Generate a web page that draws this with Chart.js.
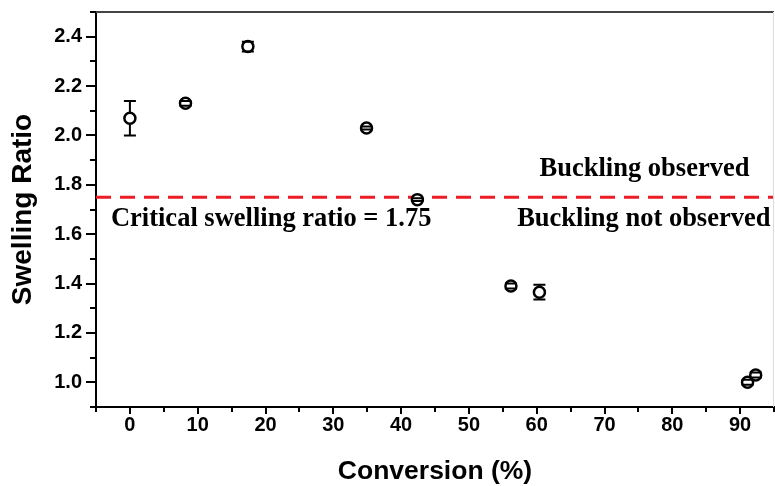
<!DOCTYPE html>
<html>
<head>
<meta charset="utf-8">
<script src="https://cdn.jsdelivr.net/npm/chart.js@4"></script>
<style>
  body { margin: 0; background: #fff; }
  #wrap { width: 775px; height: 486px; }
</style>
</head>
<body>
<div id="wrap"><canvas id="swellChart"></canvas></div>
<script>
// data
var conversion = [0, 8.2, 17.4, 34.9, 42.4, 56.2, 60.4, 91.1, 92.3];
var swellingRatio = [2.07, 2.13, 2.36, 2.03, 1.74, 1.39, 1.365, 1.00, 1.03];
var swellingError = [0.07, 0.01, 0.02, 0.006, 0.006, 0.01, 0.03, 0.01, 0.01];
var criticalRatio = 1.75;
var xTickLabels = ['0', '10', '20', '30', '40', '50', '60', '70', '80', '90'];
var yTickLabels = ['1.0', '1.2', '1.4', '1.6', '1.8', '2.0', '2.2', '2.4'];

var points = conversion.map(function (c, i) { return { x: c, y: swellingRatio[i] }; });

// error bars, drawn from the marker edge outward like Origin does
var errorBars = {
    id: 'errorBars',
    afterDatasetsDraw: function (chart) {
        var ctx = chart.ctx, xs = chart.scales.x, ys = chart.scales.y;
        var r = 6, cap = 6;
        ctx.save();
        ctx.strokeStyle = '#000';
        ctx.lineWidth = 2;
        for (var i = 0; i < conversion.length; i++) {
            var px = xs.getPixelForValue(conversion[i]);
            var py = ys.getPixelForValue(swellingRatio[i]);
            var top = ys.getPixelForValue(swellingRatio[i] + swellingError[i]);
            var bot = ys.getPixelForValue(swellingRatio[i] - swellingError[i]);
            ctx.beginPath();
            if (top < py - r) { ctx.moveTo(px, py - r); ctx.lineTo(px, top); }
            if (bot > py + r) { ctx.moveTo(px, py + r); ctx.lineTo(px, bot); }
            ctx.moveTo(px - cap, top); ctx.lineTo(px + cap, top);
            ctx.moveTo(px - cap, bot); ctx.lineTo(px + cap, bot);
            ctx.stroke();
        }
        ctx.restore();
    }
};

// outward ticks (major longer than minor) and the frame
var frameTicks = {
    id: 'frameTicks',
    afterDraw: function (chart) {
        var ctx = chart.ctx, a = chart.chartArea, xs = chart.scales.x, ys = chart.scales.y;
        ctx.save();
        ctx.strokeStyle = '#000';
        ctx.lineWidth = 2;
        ctx.beginPath();
        for (var v = -5; v <= 95; v += 5) {
            var px = Math.round(xs.getPixelForValue(v));
            ctx.moveTo(px, a.bottom);
            ctx.lineTo(px, a.bottom + (v % 10 === 0 ? 7 : 5));
        }
        for (var k = 9; k <= 25; k++) {
            var py = Math.round(ys.getPixelForValue(k / 10));
            ctx.moveTo(a.left, py);
            ctx.lineTo(a.left - (k % 2 === 0 ? 10 : 6), py);
        }
        ctx.stroke();
        ctx.strokeStyle = '#444';
        ctx.beginPath();
        ctx.moveTo(a.left, a.top);
        ctx.lineTo(a.right, a.top);
        ctx.stroke();
        ctx.strokeStyle = '#ddd';
        ctx.lineWidth = 1;
        ctx.beginPath();
        ctx.moveTo(a.right - 0.5, a.top);
        ctx.lineTo(a.right - 0.5, a.bottom);
        ctx.stroke();
        ctx.restore();
    }
};

var notes = [
    { text: 'Buckling observed', x: 75.9, y: 1.834, align: 'center' },
    { text: 'Critical swelling ratio = 1.75', x: -2.8, y: 1.632, align: 'left' },
    { text: 'Buckling not observed', x: 75.8, y: 1.632, align: 'center' }
];

var noteText = {
    id: 'noteText',
    afterDraw: function (chart) {
        var ctx = chart.ctx, xs = chart.scales.x, ys = chart.scales.y;
        ctx.save();
        ctx.fillStyle = '#000';
        ctx.font = "bold 26.5px 'Liberation Serif'";
        ctx.textBaseline = 'alphabetic';
        notes.forEach(function (n) {
            ctx.textAlign = n.align;
            ctx.fillText(n.text, xs.getPixelForValue(n.x), ys.getPixelForValue(n.y));
        });
        ctx.restore();
    }
};

new Chart('swellChart', {
    type: 'scatter',
    data: {
        datasets: [{
            data: points,
            pointStyle: 'circle',
            pointRadius: 5.5,
            pointBorderWidth: 2.5,
            borderColor: '#000',
            backgroundColor: '#fff',
            order: 1
        }, {
            type: 'line',
            data: [{ x: -5, y: criticalRatio }, { x: 95, y: criticalRatio }],
            borderColor: '#ec1c24',
            borderWidth: 3,
            borderDash: [15, 9],
            pointRadius: 0,
            fill: false,
            order: 2
        }]
    },
    options: {
        responsive: true,
        maintainAspectRatio: false,
        animation: false,
        layout: { autoPadding: false, padding: { top: 12, right: 1, left: 0, bottom: 0 } },
        plugins: {
            legend: { display: false },
            tooltip: { enabled: false }
        },
        scales: {
            x: {
                type: 'linear',
                min: -5,
                max: 95,
                afterFit: function (s) { s.height = 79; s.paddingLeft = 0; s.paddingRight = 0; },
                grid: { display: false, drawTicks: false },
                border: { display: true, color: '#000', width: 2 },
                ticks: {
                    stepSize: 5,
                    autoSkip: false,
                    maxRotation: 0,
                    padding: 6,
                    color: '#000',
                    font: { family: "'Liberation Sans'", size: 20, weight: 'bold' },
                    callback: function (v) {
                        var s = String(Math.round(v));
                        return xTickLabels.indexOf(s) >= 0 ? s : '';
                    }
                },
                title: {
                    display: true,
                    text: 'Conversion (%)',
                    color: '#000',
                    padding: { top: 0, bottom: 0 },
                    font: { family: "'Liberation Sans'", size: 26.5, weight: 'bold', lineHeight: 1.1 }
                }
            },
            y: {
                min: 0.9,
                max: 2.5,
                afterFit: function (s) { s.width = 96; s.paddingTop = 0; s.paddingBottom = 0; },
                grid: { display: false, drawTicks: false },
                border: { display: true, color: '#000', width: 2 },
                ticks: {
                    stepSize: 0.1,
                    autoSkip: false,
                    padding: 14,
                    color: '#000',
                    font: { family: "'Liberation Sans'", size: 20, weight: 'bold' },
                    callback: function (v) {
                        var s = Number(v).toFixed(1);
                        return yTickLabels.indexOf(s) >= 0 ? s : '';
                    }
                },
                title: {
                    display: true,
                    text: 'Swelling Ratio',
                    color: '#000',
                    padding: { top: 6, bottom: 0 },
                    font: { family: "'Liberation Sans'", size: 28, weight: 'bold', lineHeight: 1.2 }
                }
            }
        }
    },
    plugins: [errorBars, frameTicks, noteText]
});
</script>
</body>
</html>
